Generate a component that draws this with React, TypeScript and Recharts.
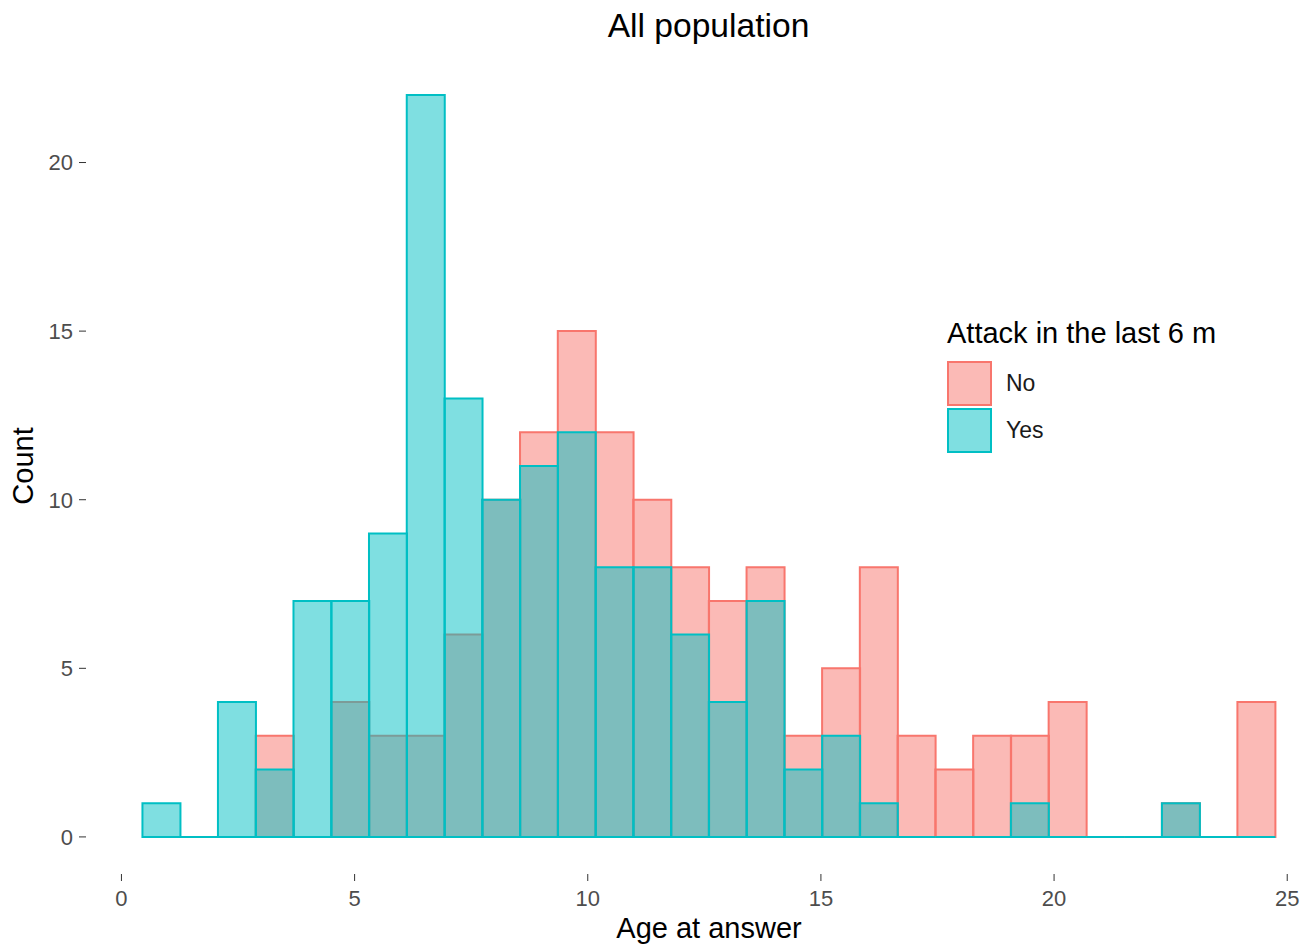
import { ComposedChart, Bar, XAxis, YAxis, Legend, Label } from 'recharts';

// bin centres of the 30 histogram bins (age at answer)
const binCenters = [
  0.855, 1.665, 2.474, 3.284, 4.094, 4.904, 5.713, 6.523, 7.333, 8.142,
  8.952, 9.762, 10.572, 11.381, 12.191, 13.001, 13.81, 14.62, 15.43, 16.239,
  17.049, 17.859, 18.669, 19.478, 20.288, 21.098, 21.907, 22.717, 23.527, 24.336,
];

const noCounts = [0, 0, 0, 3, 0, 4, 3, 3, 6, 10, 12, 15, 12, 10, 8, 7, 8, 3, 5, 8, 3, 2, 3, 3, 4, 0, 0, 1, 0, 4];
const yesCounts = [1, 0, 4, 2, 7, 7, 9, 22, 13, 10, 11, 12, 8, 8, 6, 4, 7, 2, 3, 1, 0, 0, 0, 1, 0, 0, 0, 1, 0, 0];

const xTicks = [0, 5, 10, 15, 20, 25];
const yTicks = [0, 5, 10, 15, 20];

const GROUPS = [
  { key: 'no', label: 'No', stroke: '#F8766D', fill: 'rgba(248,118,109,0.5)' },
  { key: 'yes', label: 'Yes', stroke: '#00BFC4', fill: 'rgba(0,191,196,0.5)' },
];

const data = binCenters.map((age, i) => ({ age, no: noCounts[i], yes: yesCounts[i] }));

const FONT = '"Liberation Sans", Arial, sans-serif';

// zero-count bins still get their outline drawn along the baseline, like ggplot
const BinShape = (props: any) => {
  const { x, y, width, height, fill, stroke } = props;
  if (x == null || y == null) return null;
  const h = height || 0;
  const d = `M${x},${y + h} L${x},${y} L${x + width},${y} L${x + width},${y + h} Z`;
  return <path d={d} fill={fill} stroke={stroke} strokeWidth={2} />;
};

const LegendBox = () => (
  <div style={{ fontFamily: FONT, textAlign: 'left' }}>
    <div style={{ fontSize: 29, lineHeight: '29px', color: '#000', whiteSpace: 'nowrap' }}>
      Attack in the last 6 m
    </div>
    <div style={{ marginTop: 13 }}>
      {GROUPS.map((g) => (
        <div key={g.key} style={{ display: 'flex', alignItems: 'center', height: 45, marginBottom: 2 }}>
          <div
            style={{
              width: 45,
              height: 45,
              boxSizing: 'border-box',
              background: g.fill,
              border: `2px solid ${g.stroke}`,
            }}
          />
          <span style={{ marginLeft: 14, fontSize: 23, color: '#1a1a1a' }}>{g.label}</span>
        </div>
      ))}
    </div>
  </div>
);

const tickStyle = { fill: '#4D4D4D', fontSize: 22 };

export default function App() {
  return (
    <div style={{ position: 'relative', width: 1303, height: 938, overflow: 'hidden', fontFamily: FONT, background: '#fff' }}>
      <div
        style={{
          position: 'absolute',
          left: 0,
          width: 1401,
          top: 1,
          textAlign: 'center',
          fontSize: 33.6,
          lineHeight: '33.6px',
          color: '#000',
        }}
      >
        All population
      </div>
      <ComposedChart
        width={1330}
        height={938}
        data={data}
        margin={{ top: 50, right: 6, bottom: 0, left: 8 }}
        barCategoryGap={0}
        barGap={0}
      >
        <XAxis
          xAxisId="no"
          dataKey="age"
          type="number"
          domain={[-0.76, 25.96]}
          allowDataOverflow
          ticks={xTicks}
          tick={tickStyle}
          tickSize={7}
          tickMargin={9}
          tickLine={{ stroke: '#333333' }}
          axisLine={false}
          height={72}
        >
          <Label value="Age at answer" position="insideBottom" offset={8} style={{ fontSize: 29, fill: '#000' }} />
        </XAxis>
        <XAxis xAxisId="yes" dataKey="age" type="number" domain={[-0.76, 25.96]} allowDataOverflow hide />
        <YAxis
          type="number"
          domain={[-1.1, 23.1]}
          allowDataOverflow
          ticks={yTicks}
          tick={tickStyle}
          tickSize={7}
          tickMargin={6}
          tickLine={{ stroke: '#333333' }}
          axisLine={false}
          width={70}
        >
          <Label
            value="Count"
            angle={-90}
            position="insideLeft"
            offset={7}
            style={{ fontSize: 29, fill: '#000', textAnchor: 'middle' }}
          />
        </YAxis>
        <Legend
          layout="vertical"
          align="center"
          verticalAlign="middle"
          content={<LegendBox />}
          wrapperStyle={{ position: 'absolute', left: 939, top: 311, width: 'auto', margin: 0 }}
        />
        {GROUPS.map((g) => (
          <Bar
            key={g.key}
            xAxisId={g.key}
            dataKey={g.key}
            name={g.label}
            fill={g.fill}
            stroke={g.stroke}
            shape={<BinShape />}
            isAnimationActive={false}
          />
        ))}
      </ComposedChart>
    </div>
  );
}
